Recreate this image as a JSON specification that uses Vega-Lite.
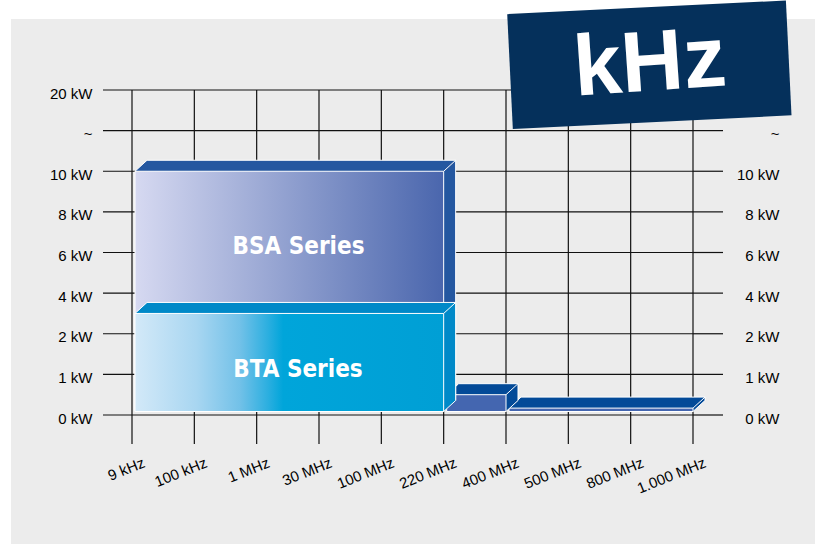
{
  "$schema": "https://vega.github.io/schema/vega-lite/v6.json",
  "width": 561,
  "height": 325,
  "autosize": {"type": "none"},
  "padding": {"left": 132, "top": 90, "right": 133, "bottom": 131},
  "background": "#ffffff",
  "config": {
    "view": {"stroke": null},
    "axis": {
      "labelFont": "Liberation Sans",
      "labelFontSize": 15,
      "labelColor": "#000000",
      "ticks": false,
      "domain": false,
      "grid": false,
      "labelOverlap": false,
      "labelFlush": false
    }
  },
  "datasets": {
    "boxes": [
      {"series": "400 MHz - 1.000 MHz", "label": "", "from": "400 MHz", "to": "1.000 MHz", "x0": 6, "x1": 9, "kw": 0.17},
      {"series": "220 MHz - 400 MHz", "label": "", "from": "220 MHz", "to": "400 MHz", "x0": 5, "x1": 6, "kw": 0.5},
      {"series": "BSA Series", "label": "BSA Series", "from": "9 kHz", "to": "220 MHz", "x0": 0, "x1": 5, "kw": 10},
      {"series": "BTA Series", "label": "BTA Series", "from": "9 kHz", "to": "220 MHz", "x0": 0, "x1": 5, "kw": 3}
    ],
    "freqs": [
      {"i": 0, "freq": "9 kHz"},
      {"i": 1, "freq": "100 kHz"},
      {"i": 2, "freq": "1 MHz"},
      {"i": 3, "freq": "30 MHz"},
      {"i": 4, "freq": "100 MHz"},
      {"i": 5, "freq": "220 MHz"},
      {"i": 6, "freq": "400 MHz"},
      {"i": 7, "freq": "500 MHz"},
      {"i": 8, "freq": "800 MHz"},
      {"i": 9, "freq": "1.000 MHz"}
    ],
    "levels": [
      {"kw": 0, "label": "0 kW"},
      {"kw": 1, "label": "1 kW"},
      {"kw": 2, "label": "2 kW"},
      {"kw": 4, "label": "4 kW"},
      {"kw": 6, "label": "6 kW"},
      {"kw": 8, "label": "8 kW"},
      {"kw": 10, "label": "10 kW"},
      {"kw": 15, "label": "~"},
      {"kw": 20, "label": "20 kW"}
    ]
  },
  "resolve": {"axis": {"x": "independent", "y": "independent"}},
  "layer": [
    {
      "data": {"values": [{"panel": "background"}]},
      "mark": {"type": "rect", "fill": "#ececec"},
      "encoding": {
        "x": {
          "datum": -1.941, "type": "quantitative",
          "scale": {"domain": [0, 9], "nice": false, "zero": false},
          "axis": {
            "title": null,
            "zindex": 1,
            "orient": "bottom",
            "values": [0, 1, 2, 3, 4, 5, 6, 7, 8, 9],
            "labelExpr": "['9 kHz','100 kHz','1 MHz','30 MHz','100 MHz','220 MHz','400 MHz','500 MHz','800 MHz','1.000 MHz'][datum.value]",
            "labelFont": "Liberation Sans",
            "labelFontSize": 15,
            "labelAngle": -22,
            "labelAlign": "right",
            "labelBaseline": "top",
            "labelPadding": 40,
            "labelOffset": 9
          }
        },
        "x2": {"datum": 10.957},
        "y": {
          "datum": 28.74, "type": "quantitative",
          "scale": {"domain": [0, 1, 2, 4, 6, 8, 10, 15, 20], "range": [325, 284.375, 243.75, 203.125, 162.5, 121.875, 81.25, 40.625, 0], "nice": false, "zero": false},
          "axis": {
            "title": null,
            "zindex": 1,
            "orient": "left",
            "values": [0, 1, 2, 4, 6, 8, 10, 15, 20],
            "labelExpr": "datum.value == 15 ? '~' : datum.value + ' kW'",
            "labelFont": "Liberation Sans",
            "labelFontSize": 15,
            "labelAlign": "right",
            "labelBaseline": "alphabetic",
            "labelPadding": 40,
            "labelOffset": 8
          }
        },
        "y2": {"datum": -3.175}
      }
    },
    {
      "data": {"name": "freqs"},
      "mark": {"type": "rule", "color": "#111111", "strokeWidth": 1.2, "yOffset": 29},
      "encoding": {
        "x": {"field": "i", "type": "quantitative", "axis": null},
        "y": {"datum": 0, "type": "quantitative", "axis": null},
        "y2": {"datum": 20}
      }
    },
    {
      "data": {"name": "levels"},
      "mark": {"type": "rule", "color": "#111111", "strokeWidth": 1.2, "xOffset": -29},
      "encoding": {
        "x": {"datum": 0, "type": "quantitative", "axis": null},
        "x2": {"datum": 9},
        "y": {"field": "kw", "type": "quantitative", "axis": null}
      }
    },
    {
      "data": {"name": "levels"},
      "mark": {"type": "rule", "color": "#111111", "strokeWidth": 1.2, "x2Offset": 30},
      "encoding": {
        "x": {"datum": 9, "type": "quantitative", "axis": null},
        "x2": {"datum": 9},
        "y": {
          "field": "kw", "type": "quantitative",
          "axis": {
            "title": null,
            "zindex": 1,
            "orient": "right",
            "values": [0, 1, 2, 4, 6, 8, 10, 15],
            "labelExpr": "datum.value == 15 ? '~' : datum.value + ' kW'",
            "labelFont": "Liberation Sans",
            "labelFontSize": 15,
            "labelAlign": "right",
            "labelBaseline": "alphabetic",
            "labelPadding": 86,
            "labelOffset": 8
          }
        }
      }
    },
    {
      "data": {"name": "boxes"},
      "transform": [{"filter": "datum.series == '400 MHz - 1.000 MHz'"}],
      "layer": [
        {"mark": {"type": "rect", "fill": "#034a98", "xOffset": 15, "x2Offset": 12, "yOffset": -11, "y2Offset": -14.5},
         "encoding": {"x": {"field": "x0", "type": "quantitative", "axis": null}, "x2": {"field": "x1"}, "y": {"field": "kw", "type": "quantitative", "axis": null}, "y2": {"datum": 0}}},
        {"mark": {"type": "rect", "fill": "#034a98", "xOffset": 15, "yOffset": -11},
         "encoding": {"x": {"field": "x0", "type": "quantitative", "axis": null}, "x2": {"field": "x1"}, "y": {"field": "kw", "type": "quantitative", "axis": null}, "y2": {"field": "kw"}}},
        {"mark": {"type": "point", "shape": "M0,0L2,-1.8333L2.15,-1.8333L2.15,0Z", "size": 144, "filled": true, "opacity": 1, "color": "#034a98", "strokeWidth": 0, "xOffset": 3},
         "encoding": {"x": {"field": "x0", "type": "quantitative", "axis": null}, "y": {"field": "kw", "type": "quantitative", "axis": null}}},
        {"mark": {"type": "point", "shape": "M0,0L0,-1.9667L2,-1.9667L2,-1.8333Z", "size": 144, "filled": true, "opacity": 1, "color": "#034a98", "strokeWidth": 0, "yOffset": -3.5},
         "encoding": {"x": {"field": "x1", "type": "quantitative", "axis": null}, "y": {"datum": 0, "type": "quantitative", "axis": null}}},
        {"mark": {"type": "rect", "fill": "#4466b0", "stroke": "#ffffff", "strokeWidth": 1, "xOffset": 3, "y2Offset": -3.5},
         "encoding": {"x": {"field": "x0", "type": "quantitative", "axis": null}, "x2": {"field": "x1"}, "y": {"field": "kw", "type": "quantitative", "axis": null}, "y2": {"datum": 0}}},
        {"mark": {"type": "rule", "color": "#ffffff", "strokeWidth": 1, "xOffset": 3, "x2Offset": 15, "y2Offset": -11},
         "encoding": {"x": {"field": "x0", "type": "quantitative", "axis": null}, "x2": {"field": "x0"}, "y": {"field": "kw", "type": "quantitative", "axis": null}, "y2": {"field": "kw"}}},
        {"mark": {"type": "rule", "color": "#ffffff", "strokeWidth": 1, "x2Offset": 12, "y2Offset": -11},
         "encoding": {"x": {"field": "x1", "type": "quantitative", "axis": null}, "x2": {"field": "x1"}, "y": {"field": "kw", "type": "quantitative", "axis": null}, "y2": {"field": "kw"}}},
        {"mark": {"type": "rule", "color": "#ffffff", "strokeWidth": 1, "x2Offset": 12, "yOffset": -3.5, "y2Offset": -14.5},
         "encoding": {"x": {"field": "x1", "type": "quantitative", "axis": null}, "x2": {"field": "x1"}, "y": {"datum": 0, "type": "quantitative", "axis": null}, "y2": {"datum": 0}}},
        {"mark": {"type": "rule", "color": "#ffffff", "strokeWidth": 1, "xOffset": 15, "x2Offset": 12, "yOffset": -11},
         "encoding": {"x": {"field": "x0", "type": "quantitative", "axis": null}, "x2": {"field": "x1"}, "y": {"field": "kw", "type": "quantitative", "axis": null}}},
        {"mark": {"type": "rule", "color": "#ffffff", "strokeWidth": 1, "xOffset": 12, "yOffset": -11, "y2Offset": -14.5},
         "encoding": {"x": {"field": "x1", "type": "quantitative", "axis": null}, "y": {"field": "kw", "type": "quantitative", "axis": null}, "y2": {"datum": 0}}}
      ]
    },
    {
      "data": {"name": "boxes"},
      "transform": [{"filter": "datum.series == '220 MHz - 400 MHz'"}],
      "layer": [
        {"mark": {"type": "rect", "fill": "#034a98", "xOffset": 15, "x2Offset": 12, "yOffset": -11, "y2Offset": -14.5},
         "encoding": {"x": {"field": "x0", "type": "quantitative", "axis": null}, "x2": {"field": "x1"}, "y": {"field": "kw", "type": "quantitative", "axis": null}, "y2": {"datum": 0}}},
        {"mark": {"type": "point", "shape": "M0,0L2,-1.8333L2.15,-1.8333L2.15,0Z", "size": 144, "filled": true, "opacity": 1, "color": "#034a98", "strokeWidth": 0, "xOffset": 3},
         "encoding": {"x": {"field": "x0", "type": "quantitative", "axis": null}, "y": {"field": "kw", "type": "quantitative", "axis": null}}},
        {"mark": {"type": "point", "shape": "M0,0L0,-1.9667L2,-1.9667L2,-1.8333Z", "size": 144, "filled": true, "opacity": 1, "color": "#034a98", "strokeWidth": 0, "yOffset": -3.5},
         "encoding": {"x": {"field": "x1", "type": "quantitative", "axis": null}, "y": {"datum": 0, "type": "quantitative", "axis": null}}},
        {"mark": {"type": "rect", "fill": "#4466b0", "stroke": "#ffffff", "strokeWidth": 1, "xOffset": 3, "y2Offset": -3.5},
         "encoding": {"x": {"field": "x0", "type": "quantitative", "axis": null}, "x2": {"field": "x1"}, "y": {"field": "kw", "type": "quantitative", "axis": null}, "y2": {"datum": 0}}},
        {"mark": {"type": "rule", "color": "#ffffff", "strokeWidth": 1, "xOffset": 3, "x2Offset": 15, "y2Offset": -11},
         "encoding": {"x": {"field": "x0", "type": "quantitative", "axis": null}, "x2": {"field": "x0"}, "y": {"field": "kw", "type": "quantitative", "axis": null}, "y2": {"field": "kw"}}},
        {"mark": {"type": "rule", "color": "#ffffff", "strokeWidth": 1, "x2Offset": 12, "y2Offset": -11},
         "encoding": {"x": {"field": "x1", "type": "quantitative", "axis": null}, "x2": {"field": "x1"}, "y": {"field": "kw", "type": "quantitative", "axis": null}, "y2": {"field": "kw"}}},
        {"mark": {"type": "rule", "color": "#ffffff", "strokeWidth": 1, "x2Offset": 12, "yOffset": -3.5, "y2Offset": -14.5},
         "encoding": {"x": {"field": "x1", "type": "quantitative", "axis": null}, "x2": {"field": "x1"}, "y": {"datum": 0, "type": "quantitative", "axis": null}, "y2": {"datum": 0}}},
        {"mark": {"type": "rule", "color": "#ffffff", "strokeWidth": 1, "xOffset": 15, "x2Offset": 12, "yOffset": -11},
         "encoding": {"x": {"field": "x0", "type": "quantitative", "axis": null}, "x2": {"field": "x1"}, "y": {"field": "kw", "type": "quantitative", "axis": null}}},
        {"mark": {"type": "rule", "color": "#ffffff", "strokeWidth": 1, "xOffset": 12, "yOffset": -11, "y2Offset": -14.5},
         "encoding": {"x": {"field": "x1", "type": "quantitative", "axis": null}, "y": {"field": "kw", "type": "quantitative", "axis": null}, "y2": {"datum": 0}}}
      ]
    },
    {
      "data": {"name": "boxes"},
      "transform": [{"filter": "datum.series == 'BSA Series'"}],
      "layer": [
        {"mark": {"type": "rect", "fill": "#2457a0", "xOffset": 15, "x2Offset": 12, "yOffset": -11, "y2Offset": -14.5},
         "encoding": {"x": {"field": "x0", "type": "quantitative", "axis": null}, "x2": {"field": "x1"}, "y": {"field": "kw", "type": "quantitative", "axis": null}, "y2": {"datum": 0}}},
        {"mark": {"type": "point", "shape": "M0,0L2,-1.8333L2.15,-1.8333L2.15,0Z", "size": 144, "filled": true, "opacity": 1, "color": "#2457a0", "strokeWidth": 0, "xOffset": 3},
         "encoding": {"x": {"field": "x0", "type": "quantitative", "axis": null}, "y": {"field": "kw", "type": "quantitative", "axis": null}}},
        {"mark": {"type": "point", "shape": "M0,0L0,-1.9667L2,-1.9667L2,-1.8333Z", "size": 144, "filled": true, "opacity": 1, "color": "#2457a0", "strokeWidth": 0, "yOffset": -3.5},
         "encoding": {"x": {"field": "x1", "type": "quantitative", "axis": null}, "y": {"datum": 0, "type": "quantitative", "axis": null}}},
        {"mark": {"type": "rect", "stroke": "#ffffff", "strokeWidth": 1, "xOffset": 3, "y2Offset": -3.5,
                  "fill": {"gradient": "linear", "x1": 0, "y1": 0, "x2": 1, "y2": 0, "stops": [{"offset": 0, "color": "#d6d9f1"}, {"offset": 1, "color": "#4a66ad"}]}},
         "encoding": {"x": {"field": "x0", "type": "quantitative", "axis": null}, "x2": {"field": "x1"}, "y": {"field": "kw", "type": "quantitative", "axis": null}, "y2": {"datum": 0}}},
        {"mark": {"type": "rule", "color": "#ffffff", "strokeWidth": 1, "xOffset": 3, "x2Offset": 15, "y2Offset": -11},
         "encoding": {"x": {"field": "x0", "type": "quantitative", "axis": null}, "x2": {"field": "x0"}, "y": {"field": "kw", "type": "quantitative", "axis": null}, "y2": {"field": "kw"}}},
        {"mark": {"type": "rule", "color": "#ffffff", "strokeWidth": 1, "x2Offset": 12, "y2Offset": -11},
         "encoding": {"x": {"field": "x1", "type": "quantitative", "axis": null}, "x2": {"field": "x1"}, "y": {"field": "kw", "type": "quantitative", "axis": null}, "y2": {"field": "kw"}}},
        {"mark": {"type": "rule", "color": "#ffffff", "strokeWidth": 1, "xOffset": 15, "x2Offset": 12, "yOffset": -11},
         "encoding": {"x": {"field": "x0", "type": "quantitative", "axis": null}, "x2": {"field": "x1"}, "y": {"field": "kw", "type": "quantitative", "axis": null}}},
        {"mark": {"type": "rule", "color": "#ffffff", "strokeWidth": 1, "xOffset": 12, "yOffset": -11, "y2Offset": -14.5},
         "encoding": {"x": {"field": "x1", "type": "quantitative", "axis": null}, "y": {"field": "kw", "type": "quantitative", "axis": null}, "y2": {"datum": 0}}},
        {"mark": {"type": "text", "align": "center", "baseline": "alphabetic", "dx": 166.5, "dy": 83, "fontSize": 24, "fontWeight": "bold", "font": "DejaVu Sans Condensed, Liberation Sans", "color": "#ffffff"},
         "encoding": {"x": {"field": "x0", "type": "quantitative", "axis": null}, "y": {"field": "kw", "type": "quantitative", "axis": null}, "text": {"field": "label"}}}
      ]
    },
    {
      "data": {"name": "boxes"},
      "transform": [{"filter": "datum.series == 'BTA Series'"}],
      "layer": [
        {"mark": {"type": "rect", "fill": "#0089c8", "xOffset": 15, "x2Offset": 12, "yOffset": -11, "y2Offset": -14.5},
         "encoding": {"x": {"field": "x0", "type": "quantitative", "axis": null}, "x2": {"field": "x1"}, "y": {"field": "kw", "type": "quantitative", "axis": null}, "y2": {"datum": 0}}},
        {"mark": {"type": "point", "shape": "M0,0L2,-1.8333L2.15,-1.8333L2.15,0Z", "size": 144, "filled": true, "opacity": 1, "color": "#0089c8", "strokeWidth": 0, "xOffset": 3},
         "encoding": {"x": {"field": "x0", "type": "quantitative", "axis": null}, "y": {"field": "kw", "type": "quantitative", "axis": null}}},
        {"mark": {"type": "point", "shape": "M0,0L0,-1.9667L2,-1.9667L2,-1.8333Z", "size": 144, "filled": true, "opacity": 1, "color": "#0089c8", "strokeWidth": 0, "yOffset": -3.5},
         "encoding": {"x": {"field": "x1", "type": "quantitative", "axis": null}, "y": {"datum": 0, "type": "quantitative", "axis": null}}},
        {"mark": {"type": "rect", "stroke": "#ffffff", "strokeWidth": 1, "xOffset": 3, "y2Offset": -3.5,
                  "fill": {"gradient": "linear", "x1": 0, "y1": 0, "x2": 1, "y2": 0, "stops": [{"offset": 0, "color": "#d3e9f8"}, {"offset": 0.2, "color": "#a8d6f1"}, {"offset": 0.34, "color": "#72c1e8"}, {"offset": 0.43, "color": "#2cafe0"}, {"offset": 0.48, "color": "#00a5da"}, {"offset": 1, "color": "#009fd5"}]}},
         "encoding": {"x": {"field": "x0", "type": "quantitative", "axis": null}, "x2": {"field": "x1"}, "y": {"field": "kw", "type": "quantitative", "axis": null}, "y2": {"datum": 0}}},
        {"mark": {"type": "rule", "color": "#ffffff", "strokeWidth": 1, "xOffset": 3, "x2Offset": 15, "y2Offset": -11},
         "encoding": {"x": {"field": "x0", "type": "quantitative", "axis": null}, "x2": {"field": "x0"}, "y": {"field": "kw", "type": "quantitative", "axis": null}, "y2": {"field": "kw"}}},
        {"mark": {"type": "rule", "color": "#ffffff", "strokeWidth": 1, "x2Offset": 12, "y2Offset": -11},
         "encoding": {"x": {"field": "x1", "type": "quantitative", "axis": null}, "x2": {"field": "x1"}, "y": {"field": "kw", "type": "quantitative", "axis": null}, "y2": {"field": "kw"}}},
        {"mark": {"type": "rule", "color": "#ffffff", "strokeWidth": 1, "x2Offset": 12, "yOffset": -3.5, "y2Offset": -14.5},
         "encoding": {"x": {"field": "x1", "type": "quantitative", "axis": null}, "x2": {"field": "x1"}, "y": {"datum": 0, "type": "quantitative", "axis": null}, "y2": {"datum": 0}}},
        {"mark": {"type": "rule", "color": "#ffffff", "strokeWidth": 1, "xOffset": 15, "x2Offset": 12, "yOffset": -11},
         "encoding": {"x": {"field": "x0", "type": "quantitative", "axis": null}, "x2": {"field": "x1"}, "y": {"field": "kw", "type": "quantitative", "axis": null}}},
        {"mark": {"type": "rule", "color": "#ffffff", "strokeWidth": 1, "xOffset": 12, "yOffset": -11, "y2Offset": -14.5},
         "encoding": {"x": {"field": "x1", "type": "quantitative", "axis": null}, "y": {"field": "kw", "type": "quantitative", "axis": null}, "y2": {"datum": 0}}},
        {"mark": {"type": "text", "align": "center", "baseline": "alphabetic", "dx": 166, "dy": 64, "fontSize": 24, "fontWeight": "bold", "font": "DejaVu Sans Condensed, Liberation Sans", "color": "#ffffff"},
         "encoding": {"x": {"field": "x0", "type": "quantitative", "axis": null}, "y": {"field": "kw", "type": "quantitative", "axis": null}, "text": {"field": "label"}}}
      ]
    },
    {
      "data": {"values": [{"badge": "kHz"}]},
      "layer": [
        {"mark": {"type": "point", "shape": "M-1,-0.412L1,-0.412L1,0.412L-1,0.412Z", "size": 77841, "angle": -2.8, "filled": true, "opacity": 1, "color": "#05305b", "strokeWidth": 0},
         "encoding": {"x": {"datum": 8.3, "type": "quantitative", "axis": null}, "y": {"datum": 23.11, "type": "quantitative", "axis": null}}},
        {"mark": {"type": "text", "align": "center", "baseline": "alphabetic", "angle": -4, "fontSize": 86, "fontWeight": "bold", "font": "Liberation Sans", "color": "#ffffff"},
         "encoding": {"x": {"datum": 8.337, "type": "quantitative", "axis": null}, "y": {"datum": 19.94, "type": "quantitative", "axis": null}, "text": {"field": "badge"}}}
      ]
    }
  ]
}
